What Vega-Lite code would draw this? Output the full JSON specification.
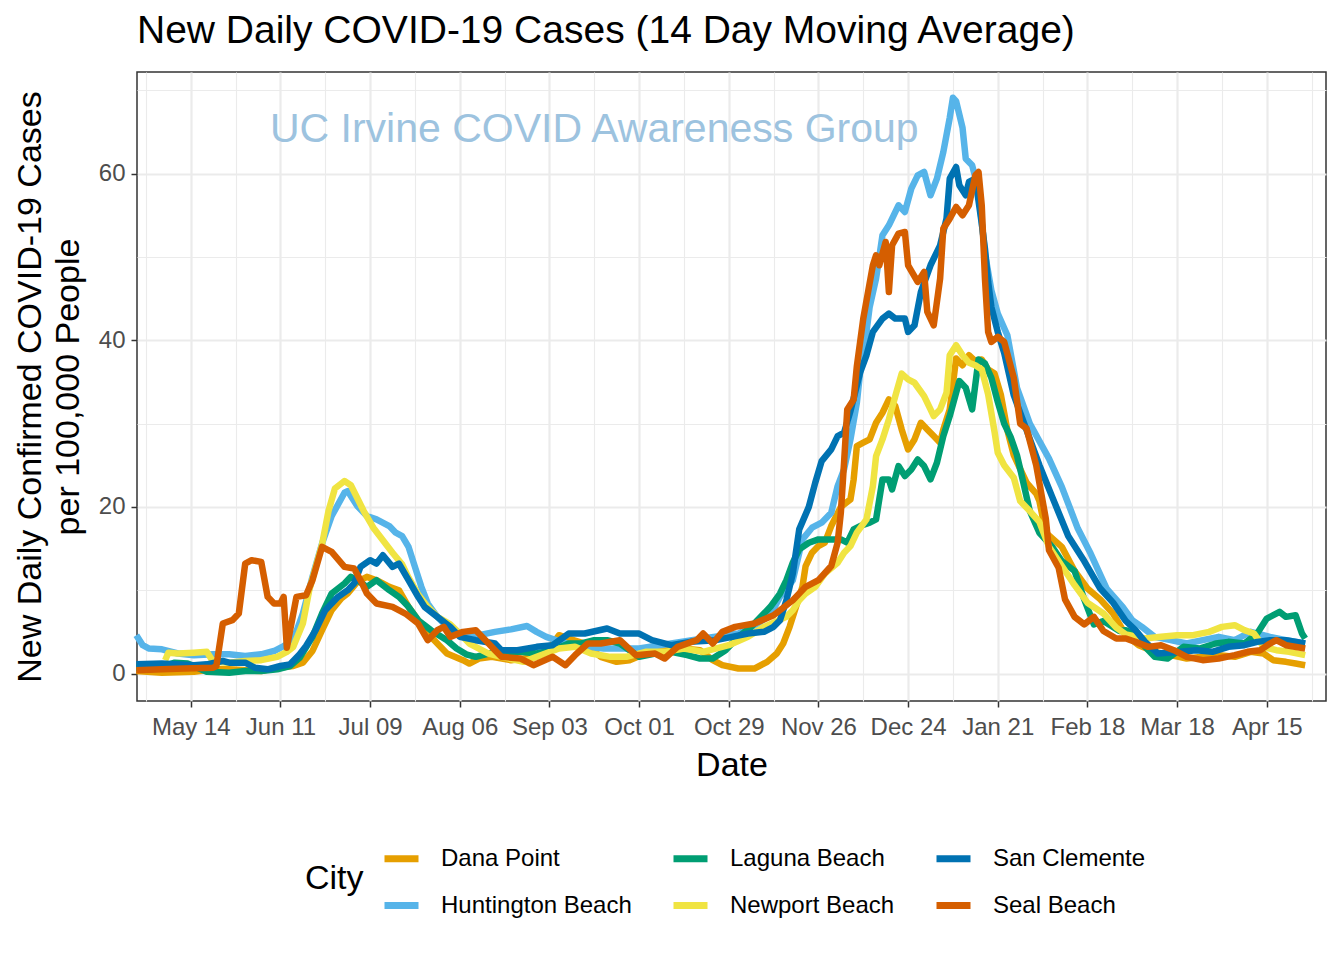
{
"$schema": "https://vega.github.io/schema/vega-lite/v6.json",
"width": 1189, "height": 629,
"autosize": {"type": "none"},
"padding": {"left": 137, "top": 72, "right": 18, "bottom": 259},
"background": "white",
"title": {"text": "New Daily COVID-19 Cases (14 Day Moving Average)", "anchor": "start", "frame": "group", "font": "Liberation Sans", "fontSize": 39, "fontWeight": "normal", "color": "black", "baseline": "alphabetic", "offset": -10},
"config": {"view": {"stroke": "#333333", "strokeWidth": 1.5}, "text": {"font": "Liberation Sans"}},
"data": {"values": [
{"city":"Dana Point","date":"2020-04-27","cases":0.3},{"city":"Dana Point","date":"2020-05-05","cases":0.1},{"city":"Dana Point","date":"2020-05-15","cases":0.2},{"city":"Dana Point","date":"2020-05-21","cases":0.5},{"city":"Dana Point","date":"2020-05-26","cases":0.5},{"city":"Dana Point","date":"2020-06-05","cases":0.3},{"city":"Dana Point","date":"2020-06-10","cases":0.7},{"city":"Dana Point","date":"2020-06-15","cases":0.9},{"city":"Dana Point","date":"2020-06-18","cases":1.3},{"city":"Dana Point","date":"2020-06-21","cases":2.7},{"city":"Dana Point","date":"2020-06-24","cases":5.2},{"city":"Dana Point","date":"2020-06-27","cases":7.6},{"city":"Dana Point","date":"2020-06-30","cases":9.0},{"city":"Dana Point","date":"2020-07-02","cases":9.6},{"city":"Dana Point","date":"2020-07-05","cases":11.0},{"city":"Dana Point","date":"2020-07-08","cases":11.6},{"city":"Dana Point","date":"2020-07-11","cases":11.2},{"city":"Dana Point","date":"2020-07-15","cases":10.4},{"city":"Dana Point","date":"2020-07-18","cases":10.0},{"city":"Dana Point","date":"2020-07-21","cases":8.0},{"city":"Dana Point","date":"2020-07-24","cases":6.4},{"city":"Dana Point","date":"2020-07-27","cases":4.8},{"city":"Dana Point","date":"2020-07-30","cases":3.6},{"city":"Dana Point","date":"2020-08-02","cases":2.4},{"city":"Dana Point","date":"2020-08-07","cases":1.6},{"city":"Dana Point","date":"2020-08-09","cases":1.2},{"city":"Dana Point","date":"2020-08-12","cases":1.8},{"city":"Dana Point","date":"2020-08-16","cases":2.0},{"city":"Dana Point","date":"2020-08-22","cases":1.6},{"city":"Dana Point","date":"2020-08-30","cases":2.0},{"city":"Dana Point","date":"2020-09-03","cases":3.0},{"city":"Dana Point","date":"2020-09-06","cases":4.6},{"city":"Dana Point","date":"2020-09-09","cases":4.2},{"city":"Dana Point","date":"2020-09-14","cases":3.6},{"city":"Dana Point","date":"2020-09-19","cases":2.0},{"city":"Dana Point","date":"2020-09-24","cases":1.4},{"city":"Dana Point","date":"2020-09-28","cases":1.6},{"city":"Dana Point","date":"2020-10-03","cases":2.4},{"city":"Dana Point","date":"2020-10-09","cases":2.8},{"city":"Dana Point","date":"2020-10-15","cases":3.0},{"city":"Dana Point","date":"2020-10-20","cases":2.8},{"city":"Dana Point","date":"2020-10-24","cases":1.6},{"city":"Dana Point","date":"2020-10-27","cases":1.0},{"city":"Dana Point","date":"2020-11-01","cases":0.6},{"city":"Dana Point","date":"2020-11-06","cases":0.6},{"city":"Dana Point","date":"2020-11-10","cases":1.4},{"city":"Dana Point","date":"2020-11-13","cases":2.4},{"city":"Dana Point","date":"2020-11-15","cases":3.6},{"city":"Dana Point","date":"2020-11-17","cases":5.6},{"city":"Dana Point","date":"2020-11-19","cases":8.0},{"city":"Dana Point","date":"2020-11-21","cases":10.4},{"city":"Dana Point","date":"2020-11-22","cases":12.9},{"city":"Dana Point","date":"2020-11-24","cases":14.5},{"city":"Dana Point","date":"2020-11-26","cases":15.3},{"city":"Dana Point","date":"2020-11-28","cases":15.7},{"city":"Dana Point","date":"2020-11-30","cases":17.7},{"city":"Dana Point","date":"2020-12-03","cases":20.0},{"city":"Dana Point","date":"2020-12-06","cases":20.9},{"city":"Dana Point","date":"2020-12-07","cases":23.3},{"city":"Dana Point","date":"2020-12-08","cases":27.3},{"city":"Dana Point","date":"2020-12-10","cases":27.7},{"city":"Dana Point","date":"2020-12-12","cases":28.1},{"city":"Dana Point","date":"2020-12-14","cases":30.1},{"city":"Dana Point","date":"2020-12-16","cases":31.3},{"city":"Dana Point","date":"2020-12-18","cases":32.9},{"city":"Dana Point","date":"2020-12-20","cases":32.1},{"city":"Dana Point","date":"2020-12-22","cases":29.3},{"city":"Dana Point","date":"2020-12-24","cases":26.9},{"city":"Dana Point","date":"2020-12-26","cases":28.1},{"city":"Dana Point","date":"2020-12-28","cases":30.1},{"city":"Dana Point","date":"2020-12-30","cases":29.3},{"city":"Dana Point","date":"2021-01-01","cases":28.5},{"city":"Dana Point","date":"2021-01-03","cases":27.7},{"city":"Dana Point","date":"2021-01-04","cases":29.3},{"city":"Dana Point","date":"2021-01-06","cases":31.7},{"city":"Dana Point","date":"2021-01-08","cases":37.8},{"city":"Dana Point","date":"2021-01-10","cases":37.0},{"city":"Dana Point","date":"2021-01-12","cases":38.2},{"city":"Dana Point","date":"2021-01-14","cases":37.5},{"city":"Dana Point","date":"2021-01-16","cases":37.7},{"city":"Dana Point","date":"2021-01-18","cases":36.5},{"city":"Dana Point","date":"2021-01-20","cases":36.0},{"city":"Dana Point","date":"2021-01-22","cases":33.4},{"city":"Dana Point","date":"2021-01-24","cases":29.2},{"city":"Dana Point","date":"2021-01-26","cases":26.2},{"city":"Dana Point","date":"2021-01-30","cases":22.9},{"city":"Dana Point","date":"2021-02-02","cases":21.6},{"city":"Dana Point","date":"2021-02-03","cases":20.7},{"city":"Dana Point","date":"2021-02-05","cases":16.9},{"city":"Dana Point","date":"2021-02-10","cases":15.2},{"city":"Dana Point","date":"2021-02-14","cases":12.3},{"city":"Dana Point","date":"2021-02-18","cases":10.2},{"city":"Dana Point","date":"2021-02-22","cases":8.9},{"city":"Dana Point","date":"2021-02-26","cases":7.2},{"city":"Dana Point","date":"2021-03-02","cases":4.6},{"city":"Dana Point","date":"2021-03-06","cases":3.4},{"city":"Dana Point","date":"2021-03-11","cases":2.6},{"city":"Dana Point","date":"2021-03-16","cases":2.2},{"city":"Dana Point","date":"2021-03-21","cases":1.8},{"city":"Dana Point","date":"2021-03-26","cases":2.0},{"city":"Dana Point","date":"2021-03-31","cases":2.2},{"city":"Dana Point","date":"2021-04-05","cases":2.0},{"city":"Dana Point","date":"2021-04-10","cases":2.6},{"city":"Dana Point","date":"2021-04-14","cases":2.4},{"city":"Dana Point","date":"2021-04-17","cases":1.6},{"city":"Dana Point","date":"2021-04-21","cases":1.4},{"city":"Dana Point","date":"2021-04-24","cases":1.2},{"city":"Dana Point","date":"2021-04-27","cases":1.0},
{"city":"Huntington Beach","date":"2020-04-27","cases":4.6},{"city":"Huntington Beach","date":"2020-04-29","cases":3.4},{"city":"Huntington Beach","date":"2020-05-01","cases":3.0},{"city":"Huntington Beach","date":"2020-05-05","cases":2.9},{"city":"Huntington Beach","date":"2020-05-10","cases":2.4},{"city":"Huntington Beach","date":"2020-05-15","cases":2.2},{"city":"Huntington Beach","date":"2020-05-21","cases":2.3},{"city":"Huntington Beach","date":"2020-05-26","cases":2.3},{"city":"Huntington Beach","date":"2020-05-31","cases":2.1},{"city":"Huntington Beach","date":"2020-06-05","cases":2.3},{"city":"Huntington Beach","date":"2020-06-09","cases":2.7},{"city":"Huntington Beach","date":"2020-06-12","cases":3.3},{"city":"Huntington Beach","date":"2020-06-15","cases":4.0},{"city":"Huntington Beach","date":"2020-06-18","cases":7.2},{"city":"Huntington Beach","date":"2020-06-21","cases":11.6},{"city":"Huntington Beach","date":"2020-06-24","cases":15.6},{"city":"Huntington Beach","date":"2020-06-27","cases":18.9},{"city":"Huntington Beach","date":"2020-07-01","cases":21.7},{"city":"Huntington Beach","date":"2020-07-02","cases":21.9},{"city":"Huntington Beach","date":"2020-07-05","cases":20.1},{"city":"Huntington Beach","date":"2020-07-08","cases":18.9},{"city":"Huntington Beach","date":"2020-07-11","cases":18.5},{"city":"Huntington Beach","date":"2020-07-15","cases":17.7},{"city":"Huntington Beach","date":"2020-07-17","cases":16.9},{"city":"Huntington Beach","date":"2020-07-19","cases":16.5},{"city":"Huntington Beach","date":"2020-07-21","cases":15.2},{"city":"Huntington Beach","date":"2020-07-23","cases":12.8},{"city":"Huntington Beach","date":"2020-07-25","cases":10.4},{"city":"Huntington Beach","date":"2020-07-27","cases":8.4},{"city":"Huntington Beach","date":"2020-07-30","cases":6.8},{"city":"Huntington Beach","date":"2020-08-02","cases":5.6},{"city":"Huntington Beach","date":"2020-08-07","cases":4.4},{"city":"Huntington Beach","date":"2020-08-12","cases":4.6},{"city":"Huntington Beach","date":"2020-08-17","cases":5.0},{"city":"Huntington Beach","date":"2020-08-22","cases":5.3},{"city":"Huntington Beach","date":"2020-08-27","cases":5.7},{"city":"Huntington Beach","date":"2020-08-30","cases":5.0},{"city":"Huntington Beach","date":"2020-09-02","cases":4.4},{"city":"Huntington Beach","date":"2020-09-05","cases":4.0},{"city":"Huntington Beach","date":"2020-09-10","cases":3.4},{"city":"Huntington Beach","date":"2020-09-20","cases":3.0},{"city":"Huntington Beach","date":"2020-10-01","cases":3.0},{"city":"Huntington Beach","date":"2020-10-11","cases":3.6},{"city":"Huntington Beach","date":"2020-10-21","cases":4.2},{"city":"Huntington Beach","date":"2020-11-01","cases":4.8},{"city":"Huntington Beach","date":"2020-11-07","cases":6.0},{"city":"Huntington Beach","date":"2020-11-11","cases":7.0},{"city":"Huntington Beach","date":"2020-11-14","cases":9.2},{"city":"Huntington Beach","date":"2020-11-18","cases":11.2},{"city":"Huntington Beach","date":"2020-11-21","cases":16.1},{"city":"Huntington Beach","date":"2020-11-24","cases":17.5},{"city":"Huntington Beach","date":"2020-11-27","cases":18.1},{"city":"Huntington Beach","date":"2020-11-30","cases":19.3},{"city":"Huntington Beach","date":"2020-12-02","cases":22.5},{"city":"Huntington Beach","date":"2020-12-04","cases":24.5},{"city":"Huntington Beach","date":"2020-12-06","cases":28.1},{"city":"Huntington Beach","date":"2020-12-08","cases":32.5},{"city":"Huntington Beach","date":"2020-12-09","cases":36.1},{"city":"Huntington Beach","date":"2020-12-11","cases":41.0},{"city":"Huntington Beach","date":"2020-12-12","cases":44.0},{"city":"Huntington Beach","date":"2020-12-14","cases":47.4},{"city":"Huntington Beach","date":"2020-12-16","cases":52.6},{"city":"Huntington Beach","date":"2020-12-18","cases":53.8},{"city":"Huntington Beach","date":"2020-12-21","cases":56.2},{"city":"Huntington Beach","date":"2020-12-23","cases":55.4},{"city":"Huntington Beach","date":"2020-12-25","cases":58.2},{"city":"Huntington Beach","date":"2020-12-27","cases":59.8},{"city":"Huntington Beach","date":"2020-12-29","cases":60.2},{"city":"Huntington Beach","date":"2020-12-31","cases":57.4},{"city":"Huntington Beach","date":"2021-01-02","cases":59.4},{"city":"Huntington Beach","date":"2021-01-04","cases":62.6},{"city":"Huntington Beach","date":"2021-01-06","cases":66.7},{"city":"Huntington Beach","date":"2021-01-07","cases":69.1},{"city":"Huntington Beach","date":"2021-01-08","cases":68.7},{"city":"Huntington Beach","date":"2021-01-10","cases":65.5},{"city":"Huntington Beach","date":"2021-01-11","cases":61.8},{"city":"Huntington Beach","date":"2021-01-13","cases":61.0},{"city":"Huntington Beach","date":"2021-01-15","cases":58.0},{"city":"Huntington Beach","date":"2021-01-17","cases":50.4},{"city":"Huntington Beach","date":"2021-01-19","cases":46.0},{"city":"Huntington Beach","date":"2021-01-21","cases":43.2},{"city":"Huntington Beach","date":"2021-01-24","cases":40.6},{"city":"Huntington Beach","date":"2021-01-27","cases":34.3},{"city":"Huntington Beach","date":"2021-01-31","cases":30.0},{"city":"Huntington Beach","date":"2021-02-06","cases":25.8},{"city":"Huntington Beach","date":"2021-02-10","cases":22.4},{"city":"Huntington Beach","date":"2021-02-15","cases":17.4},{"city":"Huntington Beach","date":"2021-02-19","cases":14.4},{"city":"Huntington Beach","date":"2021-02-24","cases":10.2},{"city":"Huntington Beach","date":"2021-03-01","cases":8.0},{"city":"Huntington Beach","date":"2021-03-04","cases":6.4},{"city":"Huntington Beach","date":"2021-03-07","cases":5.6},{"city":"Huntington Beach","date":"2021-03-11","cases":4.4},{"city":"Huntington Beach","date":"2021-03-16","cases":4.0},{"city":"Huntington Beach","date":"2021-03-21","cases":3.6},{"city":"Huntington Beach","date":"2021-03-26","cases":4.0},{"city":"Huntington Beach","date":"2021-03-31","cases":4.4},{"city":"Huntington Beach","date":"2021-04-05","cases":4.0},{"city":"Huntington Beach","date":"2021-04-10","cases":5.0},{"city":"Huntington Beach","date":"2021-04-16","cases":4.4},{"city":"Huntington Beach","date":"2021-04-21","cases":4.0},{"city":"Huntington Beach","date":"2021-04-27","cases":3.6},
{"city":"Laguna Beach","date":"2020-04-27","cases":0.7},{"city":"Laguna Beach","date":"2020-05-05","cases":0.8},{"city":"Laguna Beach","date":"2020-05-09","cases":1.3},{"city":"Laguna Beach","date":"2020-05-13","cases":1.2},{"city":"Laguna Beach","date":"2020-05-19","cases":0.2},{"city":"Laguna Beach","date":"2020-05-26","cases":0.1},{"city":"Laguna Beach","date":"2020-05-31","cases":0.3},{"city":"Laguna Beach","date":"2020-06-05","cases":0.3},{"city":"Laguna Beach","date":"2020-06-10","cases":0.5},{"city":"Laguna Beach","date":"2020-06-14","cases":0.9},{"city":"Laguna Beach","date":"2020-06-17","cases":1.9},{"city":"Laguna Beach","date":"2020-06-21","cases":4.4},{"city":"Laguna Beach","date":"2020-06-24","cases":7.2},{"city":"Laguna Beach","date":"2020-06-27","cases":9.6},{"city":"Laguna Beach","date":"2020-07-01","cases":10.8},{"city":"Laguna Beach","date":"2020-07-03","cases":11.6},{"city":"Laguna Beach","date":"2020-07-05","cases":11.2},{"city":"Laguna Beach","date":"2020-07-08","cases":10.4},{"city":"Laguna Beach","date":"2020-07-11","cases":11.2},{"city":"Laguna Beach","date":"2020-07-15","cases":10.0},{"city":"Laguna Beach","date":"2020-07-18","cases":9.2},{"city":"Laguna Beach","date":"2020-07-21","cases":8.0},{"city":"Laguna Beach","date":"2020-07-24","cases":6.4},{"city":"Laguna Beach","date":"2020-07-28","cases":5.2},{"city":"Laguna Beach","date":"2020-08-02","cases":4.0},{"city":"Laguna Beach","date":"2020-08-05","cases":3.0},{"city":"Laguna Beach","date":"2020-08-08","cases":2.3},{"city":"Laguna Beach","date":"2020-08-11","cases":2.0},{"city":"Laguna Beach","date":"2020-08-15","cases":2.4},{"city":"Laguna Beach","date":"2020-08-19","cases":2.6},{"city":"Laguna Beach","date":"2020-08-25","cases":2.6},{"city":"Laguna Beach","date":"2020-08-30","cases":2.4},{"city":"Laguna Beach","date":"2020-09-04","cases":2.8},{"city":"Laguna Beach","date":"2020-09-09","cases":3.6},{"city":"Laguna Beach","date":"2020-09-13","cases":3.6},{"city":"Laguna Beach","date":"2020-09-17","cases":4.0},{"city":"Laguna Beach","date":"2020-09-21","cases":4.0},{"city":"Laguna Beach","date":"2020-09-25","cases":3.6},{"city":"Laguna Beach","date":"2020-10-01","cases":2.0},{"city":"Laguna Beach","date":"2020-10-06","cases":2.4},{"city":"Laguna Beach","date":"2020-10-11","cases":2.6},{"city":"Laguna Beach","date":"2020-10-16","cases":2.2},{"city":"Laguna Beach","date":"2020-10-20","cases":1.8},{"city":"Laguna Beach","date":"2020-10-24","cases":1.8},{"city":"Laguna Beach","date":"2020-10-28","cases":2.8},{"city":"Laguna Beach","date":"2020-11-01","cases":4.4},{"city":"Laguna Beach","date":"2020-11-05","cases":5.6},{"city":"Laguna Beach","date":"2020-11-08","cases":6.8},{"city":"Laguna Beach","date":"2020-11-11","cases":8.0},{"city":"Laguna Beach","date":"2020-11-14","cases":9.6},{"city":"Laguna Beach","date":"2020-11-16","cases":11.2},{"city":"Laguna Beach","date":"2020-11-18","cases":13.3},{"city":"Laguna Beach","date":"2020-11-20","cases":14.9},{"city":"Laguna Beach","date":"2020-11-23","cases":15.7},{"city":"Laguna Beach","date":"2020-11-26","cases":16.1},{"city":"Laguna Beach","date":"2020-11-30","cases":16.1},{"city":"Laguna Beach","date":"2020-12-03","cases":16.1},{"city":"Laguna Beach","date":"2020-12-05","cases":15.7},{"city":"Laguna Beach","date":"2020-12-07","cases":17.3},{"city":"Laguna Beach","date":"2020-12-09","cases":17.7},{"city":"Laguna Beach","date":"2020-12-12","cases":18.1},{"city":"Laguna Beach","date":"2020-12-14","cases":18.5},{"city":"Laguna Beach","date":"2020-12-16","cases":23.3},{"city":"Laguna Beach","date":"2020-12-18","cases":23.3},{"city":"Laguna Beach","date":"2020-12-19","cases":22.1},{"city":"Laguna Beach","date":"2020-12-21","cases":24.9},{"city":"Laguna Beach","date":"2020-12-23","cases":23.7},{"city":"Laguna Beach","date":"2020-12-25","cases":24.5},{"city":"Laguna Beach","date":"2020-12-27","cases":25.7},{"city":"Laguna Beach","date":"2020-12-29","cases":24.9},{"city":"Laguna Beach","date":"2020-12-31","cases":23.3},{"city":"Laguna Beach","date":"2021-01-02","cases":25.3},{"city":"Laguna Beach","date":"2021-01-04","cases":28.5},{"city":"Laguna Beach","date":"2021-01-06","cases":30.9},{"city":"Laguna Beach","date":"2021-01-08","cases":33.7},{"city":"Laguna Beach","date":"2021-01-09","cases":35.1},{"city":"Laguna Beach","date":"2021-01-11","cases":34.3},{"city":"Laguna Beach","date":"2021-01-13","cases":31.7},{"city":"Laguna Beach","date":"2021-01-15","cases":37.7},{"city":"Laguna Beach","date":"2021-01-17","cases":37.2},{"city":"Laguna Beach","date":"2021-01-19","cases":35.5},{"city":"Laguna Beach","date":"2021-01-21","cases":32.6},{"city":"Laguna Beach","date":"2021-01-23","cases":30.0},{"city":"Laguna Beach","date":"2021-01-25","cases":28.4},{"city":"Laguna Beach","date":"2021-01-27","cases":26.2},{"city":"Laguna Beach","date":"2021-01-29","cases":22.9},{"city":"Laguna Beach","date":"2021-01-31","cases":19.5},{"city":"Laguna Beach","date":"2021-02-03","cases":16.9},{"city":"Laguna Beach","date":"2021-02-07","cases":15.2},{"city":"Laguna Beach","date":"2021-02-10","cases":13.5},{"city":"Laguna Beach","date":"2021-02-14","cases":12.3},{"city":"Laguna Beach","date":"2021-02-17","cases":8.9},{"city":"Laguna Beach","date":"2021-02-20","cases":5.9},{"city":"Laguna Beach","date":"2021-02-23","cases":6.3},{"city":"Laguna Beach","date":"2021-02-28","cases":5.1},{"city":"Laguna Beach","date":"2021-03-02","cases":5.2},{"city":"Laguna Beach","date":"2021-03-06","cases":4.4},{"city":"Laguna Beach","date":"2021-03-08","cases":3.2},{"city":"Laguna Beach","date":"2021-03-11","cases":2.0},{"city":"Laguna Beach","date":"2021-03-15","cases":1.8},{"city":"Laguna Beach","date":"2021-03-20","cases":3.2},{"city":"Laguna Beach","date":"2021-03-25","cases":3.0},{"city":"Laguna Beach","date":"2021-03-30","cases":3.6},{"city":"Laguna Beach","date":"2021-04-03","cases":3.8},{"city":"Laguna Beach","date":"2021-04-08","cases":3.6},{"city":"Laguna Beach","date":"2021-04-12","cases":4.8},{"city":"Laguna Beach","date":"2021-04-15","cases":6.6},{"city":"Laguna Beach","date":"2021-04-19","cases":7.4},{"city":"Laguna Beach","date":"2021-04-21","cases":6.8},{"city":"Laguna Beach","date":"2021-04-24","cases":7.0},{"city":"Laguna Beach","date":"2021-04-26","cases":4.8},{"city":"Laguna Beach","date":"2021-04-27","cases":4.2},
{"city":"Newport Beach","date":"2020-05-06","cases":1.6},{"city":"Newport Beach","date":"2020-05-07","cases":2.5},{"city":"Newport Beach","date":"2020-05-10","cases":2.4},{"city":"Newport Beach","date":"2020-05-15","cases":2.5},{"city":"Newport Beach","date":"2020-05-19","cases":2.6},{"city":"Newport Beach","date":"2020-05-21","cases":1.4},{"city":"Newport Beach","date":"2020-05-26","cases":1.3},{"city":"Newport Beach","date":"2020-05-31","cases":1.5},{"city":"Newport Beach","date":"2020-06-05","cases":1.6},{"city":"Newport Beach","date":"2020-06-10","cases":2.0},{"city":"Newport Beach","date":"2020-06-13","cases":2.6},{"city":"Newport Beach","date":"2020-06-15","cases":3.2},{"city":"Newport Beach","date":"2020-06-18","cases":6.0},{"city":"Newport Beach","date":"2020-06-20","cases":10.0},{"city":"Newport Beach","date":"2020-06-24","cases":15.5},{"city":"Newport Beach","date":"2020-06-26","cases":19.5},{"city":"Newport Beach","date":"2020-06-28","cases":22.2},{"city":"Newport Beach","date":"2020-07-01","cases":23.1},{"city":"Newport Beach","date":"2020-07-03","cases":22.6},{"city":"Newport Beach","date":"2020-07-07","cases":19.5},{"city":"Newport Beach","date":"2020-07-10","cases":17.5},{"city":"Newport Beach","date":"2020-07-13","cases":16.0},{"city":"Newport Beach","date":"2020-07-16","cases":14.5},{"city":"Newport Beach","date":"2020-07-19","cases":13.1},{"city":"Newport Beach","date":"2020-07-21","cases":11.5},{"city":"Newport Beach","date":"2020-07-24","cases":9.5},{"city":"Newport Beach","date":"2020-07-27","cases":8.0},{"city":"Newport Beach","date":"2020-07-30","cases":6.8},{"city":"Newport Beach","date":"2020-08-03","cases":5.9},{"city":"Newport Beach","date":"2020-08-06","cases":4.8},{"city":"Newport Beach","date":"2020-08-09","cases":3.6},{"city":"Newport Beach","date":"2020-08-15","cases":2.4},{"city":"Newport Beach","date":"2020-08-19","cases":2.0},{"city":"Newport Beach","date":"2020-08-26","cases":1.4},{"city":"Newport Beach","date":"2020-08-30","cases":2.0},{"city":"Newport Beach","date":"2020-09-06","cases":3.0},{"city":"Newport Beach","date":"2020-09-11","cases":3.2},{"city":"Newport Beach","date":"2020-09-16","cases":2.4},{"city":"Newport Beach","date":"2020-09-22","cases":2.0},{"city":"Newport Beach","date":"2020-09-27","cases":2.0},{"city":"Newport Beach","date":"2020-10-03","cases":2.6},{"city":"Newport Beach","date":"2020-10-09","cases":2.6},{"city":"Newport Beach","date":"2020-10-15","cases":3.0},{"city":"Newport Beach","date":"2020-10-21","cases":2.6},{"city":"Newport Beach","date":"2020-10-29","cases":3.4},{"city":"Newport Beach","date":"2020-11-04","cases":4.4},{"city":"Newport Beach","date":"2020-11-09","cases":5.6},{"city":"Newport Beach","date":"2020-11-16","cases":6.8},{"city":"Newport Beach","date":"2020-11-18","cases":7.6},{"city":"Newport Beach","date":"2020-11-20","cases":8.8},{"city":"Newport Beach","date":"2020-11-22","cases":9.6},{"city":"Newport Beach","date":"2020-11-25","cases":10.4},{"city":"Newport Beach","date":"2020-11-28","cases":12.0},{"city":"Newport Beach","date":"2020-12-02","cases":13.3},{"city":"Newport Beach","date":"2020-12-04","cases":14.5},{"city":"Newport Beach","date":"2020-12-06","cases":15.3},{"city":"Newport Beach","date":"2020-12-08","cases":16.9},{"city":"Newport Beach","date":"2020-12-11","cases":18.5},{"city":"Newport Beach","date":"2020-12-13","cases":22.5},{"city":"Newport Beach","date":"2020-12-14","cases":26.1},{"city":"Newport Beach","date":"2020-12-16","cases":28.1},{"city":"Newport Beach","date":"2020-12-18","cases":30.5},{"city":"Newport Beach","date":"2020-12-20","cases":33.3},{"city":"Newport Beach","date":"2020-12-22","cases":36.0},{"city":"Newport Beach","date":"2020-12-24","cases":35.3},{"city":"Newport Beach","date":"2020-12-26","cases":34.9},{"city":"Newport Beach","date":"2020-12-29","cases":33.3},{"city":"Newport Beach","date":"2020-12-31","cases":31.7},{"city":"Newport Beach","date":"2021-01-01","cases":30.9},{"city":"Newport Beach","date":"2021-01-03","cases":31.7},{"city":"Newport Beach","date":"2021-01-05","cases":33.7},{"city":"Newport Beach","date":"2021-01-06","cases":38.2},{"city":"Newport Beach","date":"2021-01-08","cases":39.4},{"city":"Newport Beach","date":"2021-01-10","cases":38.2},{"city":"Newport Beach","date":"2021-01-12","cases":37.3},{"city":"Newport Beach","date":"2021-01-14","cases":37.0},{"city":"Newport Beach","date":"2021-01-16","cases":36.5},{"city":"Newport Beach","date":"2021-01-18","cases":33.5},{"city":"Newport Beach","date":"2021-01-20","cases":29.0},{"city":"Newport Beach","date":"2021-01-21","cases":26.5},{"city":"Newport Beach","date":"2021-01-23","cases":25.0},{"city":"Newport Beach","date":"2021-01-26","cases":23.5},{"city":"Newport Beach","date":"2021-01-28","cases":20.7},{"city":"Newport Beach","date":"2021-01-31","cases":19.5},{"city":"Newport Beach","date":"2021-02-03","cases":18.2},{"city":"Newport Beach","date":"2021-02-06","cases":15.2},{"city":"Newport Beach","date":"2021-02-09","cases":13.5},{"city":"Newport Beach","date":"2021-02-14","cases":10.6},{"city":"Newport Beach","date":"2021-02-18","cases":8.5},{"city":"Newport Beach","date":"2021-02-23","cases":7.2},{"city":"Newport Beach","date":"2021-02-27","cases":5.5},{"city":"Newport Beach","date":"2021-03-02","cases":4.7},{"city":"Newport Beach","date":"2021-03-08","cases":4.2},{"city":"Newport Beach","date":"2021-03-13","cases":4.4},{"city":"Newport Beach","date":"2021-03-18","cases":4.6},{"city":"Newport Beach","date":"2021-03-23","cases":4.6},{"city":"Newport Beach","date":"2021-03-28","cases":5.0},{"city":"Newport Beach","date":"2021-04-01","cases":5.6},{"city":"Newport Beach","date":"2021-04-05","cases":5.8},{"city":"Newport Beach","date":"2021-04-08","cases":5.2},{"city":"Newport Beach","date":"2021-04-11","cases":4.8},{"city":"Newport Beach","date":"2021-04-14","cases":3.2},{"city":"Newport Beach","date":"2021-04-18","cases":2.8},{"city":"Newport Beach","date":"2021-04-22","cases":2.6},{"city":"Newport Beach","date":"2021-04-27","cases":2.2},
{"city":"San Clemente","date":"2020-04-27","cases":1.1},{"city":"San Clemente","date":"2020-05-05","cases":1.2},{"city":"San Clemente","date":"2020-05-15","cases":1.0},{"city":"San Clemente","date":"2020-05-19","cases":1.1},{"city":"San Clemente","date":"2020-05-24","cases":1.5},{"city":"San Clemente","date":"2020-05-26","cases":1.3},{"city":"San Clemente","date":"2020-05-31","cases":1.3},{"city":"San Clemente","date":"2020-06-03","cases":0.7},{"city":"San Clemente","date":"2020-06-07","cases":0.5},{"city":"San Clemente","date":"2020-06-11","cases":0.9},{"city":"San Clemente","date":"2020-06-14","cases":1.1},{"city":"San Clemente","date":"2020-06-17","cases":2.3},{"city":"San Clemente","date":"2020-06-19","cases":3.3},{"city":"San Clemente","date":"2020-06-22","cases":5.2},{"city":"San Clemente","date":"2020-06-25","cases":7.6},{"city":"San Clemente","date":"2020-06-29","cases":9.2},{"city":"San Clemente","date":"2020-07-02","cases":10.0},{"city":"San Clemente","date":"2020-07-04","cases":10.8},{"city":"San Clemente","date":"2020-07-06","cases":12.8},{"city":"San Clemente","date":"2020-07-09","cases":13.6},{"city":"San Clemente","date":"2020-07-11","cases":13.2},{"city":"San Clemente","date":"2020-07-13","cases":14.2},{"city":"San Clemente","date":"2020-07-16","cases":12.8},{"city":"San Clemente","date":"2020-07-18","cases":13.2},{"city":"San Clemente","date":"2020-07-21","cases":11.2},{"city":"San Clemente","date":"2020-07-24","cases":9.2},{"city":"San Clemente","date":"2020-07-26","cases":8.0},{"city":"San Clemente","date":"2020-07-30","cases":6.8},{"city":"San Clemente","date":"2020-08-03","cases":5.6},{"city":"San Clemente","date":"2020-08-06","cases":4.4},{"city":"San Clemente","date":"2020-08-11","cases":4.0},{"city":"San Clemente","date":"2020-08-17","cases":3.6},{"city":"San Clemente","date":"2020-08-19","cases":2.8},{"city":"San Clemente","date":"2020-08-24","cases":2.8},{"city":"San Clemente","date":"2020-08-30","cases":3.2},{"city":"San Clemente","date":"2020-09-04","cases":3.4},{"city":"San Clemente","date":"2020-09-09","cases":4.8},{"city":"San Clemente","date":"2020-09-14","cases":4.8},{"city":"San Clemente","date":"2020-09-21","cases":5.4},{"city":"San Clemente","date":"2020-09-25","cases":4.8},{"city":"San Clemente","date":"2020-10-01","cases":4.8},{"city":"San Clemente","date":"2020-10-05","cases":4.0},{"city":"San Clemente","date":"2020-10-11","cases":3.4},{"city":"San Clemente","date":"2020-10-17","cases":3.8},{"city":"San Clemente","date":"2020-10-25","cases":4.0},{"city":"San Clemente","date":"2020-10-30","cases":4.4},{"city":"San Clemente","date":"2020-11-04","cases":4.8},{"city":"San Clemente","date":"2020-11-09","cases":5.0},{"city":"San Clemente","date":"2020-11-12","cases":5.6},{"city":"San Clemente","date":"2020-11-14","cases":6.4},{"city":"San Clemente","date":"2020-11-16","cases":8.8},{"city":"San Clemente","date":"2020-11-18","cases":12.0},{"city":"San Clemente","date":"2020-11-20","cases":17.3},{"city":"San Clemente","date":"2020-11-23","cases":20.0},{"city":"San Clemente","date":"2020-11-25","cases":22.9},{"city":"San Clemente","date":"2020-11-27","cases":25.5},{"city":"San Clemente","date":"2020-11-30","cases":26.9},{"city":"San Clemente","date":"2020-12-02","cases":28.5},{"city":"San Clemente","date":"2020-12-04","cases":28.9},{"city":"San Clemente","date":"2020-12-06","cases":31.5},{"city":"San Clemente","date":"2020-12-09","cases":36.1},{"city":"San Clemente","date":"2020-12-11","cases":38.2},{"city":"San Clemente","date":"2020-12-13","cases":41.0},{"city":"San Clemente","date":"2020-12-16","cases":42.6},{"city":"San Clemente","date":"2020-12-18","cases":43.2},{"city":"San Clemente","date":"2020-12-20","cases":42.6},{"city":"San Clemente","date":"2020-12-23","cases":42.6},{"city":"San Clemente","date":"2020-12-24","cases":41.0},{"city":"San Clemente","date":"2020-12-26","cases":41.8},{"city":"San Clemente","date":"2020-12-28","cases":45.8},{"city":"San Clemente","date":"2020-12-31","cases":49.0},{"city":"San Clemente","date":"2021-01-03","cases":51.4},{"city":"San Clemente","date":"2021-01-05","cases":54.6},{"city":"San Clemente","date":"2021-01-06","cases":59.4},{"city":"San Clemente","date":"2021-01-08","cases":60.8},{"city":"San Clemente","date":"2021-01-09","cases":58.6},{"city":"San Clemente","date":"2021-01-11","cases":57.4},{"city":"San Clemente","date":"2021-01-12","cases":59.0},{"city":"San Clemente","date":"2021-01-14","cases":59.4},{"city":"San Clemente","date":"2021-01-16","cases":54.0},{"city":"San Clemente","date":"2021-01-17","cases":51.0},{"city":"San Clemente","date":"2021-01-18","cases":47.0},{"city":"San Clemente","date":"2021-01-19","cases":44.0},{"city":"San Clemente","date":"2021-01-21","cases":41.0},{"city":"San Clemente","date":"2021-01-23","cases":38.5},{"city":"San Clemente","date":"2021-01-26","cases":33.4},{"city":"San Clemente","date":"2021-01-30","cases":29.2},{"city":"San Clemente","date":"2021-02-03","cases":25.0},{"city":"San Clemente","date":"2021-02-07","cases":21.2},{"city":"San Clemente","date":"2021-02-12","cases":16.5},{"city":"San Clemente","date":"2021-02-17","cases":13.5},{"city":"San Clemente","date":"2021-02-22","cases":10.2},{"city":"San Clemente","date":"2021-02-26","cases":8.5},{"city":"San Clemente","date":"2021-03-02","cases":6.3},{"city":"San Clemente","date":"2021-03-05","cases":5.2},{"city":"San Clemente","date":"2021-03-08","cases":3.8},{"city":"San Clemente","date":"2021-03-12","cases":2.4},{"city":"San Clemente","date":"2021-03-19","cases":2.6},{"city":"San Clemente","date":"2021-03-24","cases":2.8},{"city":"San Clemente","date":"2021-03-29","cases":2.6},{"city":"San Clemente","date":"2021-04-03","cases":3.2},{"city":"San Clemente","date":"2021-04-08","cases":3.4},{"city":"San Clemente","date":"2021-04-12","cases":3.8},{"city":"San Clemente","date":"2021-04-16","cases":4.0},{"city":"San Clemente","date":"2021-04-21","cases":4.0},{"city":"San Clemente","date":"2021-04-27","cases":3.6},
{"city":"Seal Beach","date":"2020-04-27","cases":0.4},{"city":"Seal Beach","date":"2020-05-05","cases":0.5},{"city":"Seal Beach","date":"2020-05-12","cases":0.6},{"city":"Seal Beach","date":"2020-05-21","cases":0.7},{"city":"Seal Beach","date":"2020-05-22","cases":0.9},{"city":"Seal Beach","date":"2020-05-24","cases":6.0},{"city":"Seal Beach","date":"2020-05-27","cases":6.4},{"city":"Seal Beach","date":"2020-05-29","cases":7.2},{"city":"Seal Beach","date":"2020-05-31","cases":13.2},{"city":"Seal Beach","date":"2020-06-02","cases":13.6},{"city":"Seal Beach","date":"2020-06-05","cases":13.4},{"city":"Seal Beach","date":"2020-06-07","cases":9.2},{"city":"Seal Beach","date":"2020-06-09","cases":8.4},{"city":"Seal Beach","date":"2020-06-11","cases":8.4},{"city":"Seal Beach","date":"2020-06-12","cases":9.2},{"city":"Seal Beach","date":"2020-06-13","cases":3.1},{"city":"Seal Beach","date":"2020-06-16","cases":9.2},{"city":"Seal Beach","date":"2020-06-19","cases":9.4},{"city":"Seal Beach","date":"2020-06-21","cases":11.2},{"city":"Seal Beach","date":"2020-06-24","cases":15.2},{"city":"Seal Beach","date":"2020-06-27","cases":14.6},{"city":"Seal Beach","date":"2020-07-01","cases":12.8},{"city":"Seal Beach","date":"2020-07-04","cases":12.6},{"city":"Seal Beach","date":"2020-07-06","cases":11.2},{"city":"Seal Beach","date":"2020-07-08","cases":9.6},{"city":"Seal Beach","date":"2020-07-11","cases":8.4},{"city":"Seal Beach","date":"2020-07-16","cases":8.0},{"city":"Seal Beach","date":"2020-07-20","cases":7.2},{"city":"Seal Beach","date":"2020-07-24","cases":6.0},{"city":"Seal Beach","date":"2020-07-27","cases":4.0},{"city":"Seal Beach","date":"2020-07-30","cases":5.2},{"city":"Seal Beach","date":"2020-08-01","cases":5.6},{"city":"Seal Beach","date":"2020-08-03","cases":4.4},{"city":"Seal Beach","date":"2020-08-07","cases":5.0},{"city":"Seal Beach","date":"2020-08-11","cases":5.2},{"city":"Seal Beach","date":"2020-08-15","cases":3.6},{"city":"Seal Beach","date":"2020-08-17","cases":2.8},{"city":"Seal Beach","date":"2020-08-19","cases":2.0},{"city":"Seal Beach","date":"2020-08-25","cases":1.8},{"city":"Seal Beach","date":"2020-08-29","cases":1.0},{"city":"Seal Beach","date":"2020-09-04","cases":2.0},{"city":"Seal Beach","date":"2020-09-08","cases":1.0},{"city":"Seal Beach","date":"2020-09-11","cases":2.2},{"city":"Seal Beach","date":"2020-09-15","cases":3.6},{"city":"Seal Beach","date":"2020-09-19","cases":3.6},{"city":"Seal Beach","date":"2020-09-25","cases":4.0},{"city":"Seal Beach","date":"2020-09-30","cases":2.2},{"city":"Seal Beach","date":"2020-10-06","cases":2.4},{"city":"Seal Beach","date":"2020-10-09","cases":1.8},{"city":"Seal Beach","date":"2020-10-13","cases":3.2},{"city":"Seal Beach","date":"2020-10-19","cases":4.0},{"city":"Seal Beach","date":"2020-10-21","cases":4.8},{"city":"Seal Beach","date":"2020-10-24","cases":3.6},{"city":"Seal Beach","date":"2020-10-27","cases":5.0},{"city":"Seal Beach","date":"2020-10-31","cases":5.6},{"city":"Seal Beach","date":"2020-11-06","cases":6.0},{"city":"Seal Beach","date":"2020-11-12","cases":7.0},{"city":"Seal Beach","date":"2020-11-18","cases":8.8},{"city":"Seal Beach","date":"2020-11-22","cases":10.4},{"city":"Seal Beach","date":"2020-11-26","cases":11.2},{"city":"Seal Beach","date":"2020-11-30","cases":12.9},{"city":"Seal Beach","date":"2020-12-02","cases":15.7},{"city":"Seal Beach","date":"2020-12-03","cases":19.3},{"city":"Seal Beach","date":"2020-12-04","cases":25.3},{"city":"Seal Beach","date":"2020-12-05","cases":31.7},{"city":"Seal Beach","date":"2020-12-07","cases":32.9},{"city":"Seal Beach","date":"2020-12-08","cases":36.9},{"city":"Seal Beach","date":"2020-12-10","cases":42.6},{"city":"Seal Beach","date":"2020-12-13","cases":49.0},{"city":"Seal Beach","date":"2020-12-14","cases":50.2},{"city":"Seal Beach","date":"2020-12-15","cases":49.0},{"city":"Seal Beach","date":"2020-12-17","cases":51.8},{"city":"Seal Beach","date":"2020-12-18","cases":45.8},{"city":"Seal Beach","date":"2020-12-19","cases":51.4},{"city":"Seal Beach","date":"2020-12-21","cases":52.8},{"city":"Seal Beach","date":"2020-12-23","cases":53.0},{"city":"Seal Beach","date":"2020-12-24","cases":49.0},{"city":"Seal Beach","date":"2020-12-27","cases":47.0},{"city":"Seal Beach","date":"2020-12-29","cases":48.2},{"city":"Seal Beach","date":"2020-12-30","cases":43.4},{"city":"Seal Beach","date":"2021-01-01","cases":41.8},{"city":"Seal Beach","date":"2021-01-03","cases":47.4},{"city":"Seal Beach","date":"2021-01-04","cases":53.4},{"city":"Seal Beach","date":"2021-01-06","cases":54.6},{"city":"Seal Beach","date":"2021-01-08","cases":56.0},{"city":"Seal Beach","date":"2021-01-10","cases":55.0},{"city":"Seal Beach","date":"2021-01-12","cases":56.2},{"city":"Seal Beach","date":"2021-01-14","cases":59.8},{"city":"Seal Beach","date":"2021-01-15","cases":60.2},{"city":"Seal Beach","date":"2021-01-16","cases":56.2},{"city":"Seal Beach","date":"2021-01-17","cases":47.4},{"city":"Seal Beach","date":"2021-01-18","cases":41.0},{"city":"Seal Beach","date":"2021-01-19","cases":39.8},{"city":"Seal Beach","date":"2021-01-21","cases":40.4},{"city":"Seal Beach","date":"2021-01-23","cases":39.8},{"city":"Seal Beach","date":"2021-01-26","cases":35.5},{"city":"Seal Beach","date":"2021-01-28","cases":30.0},{"city":"Seal Beach","date":"2021-01-30","cases":29.4},{"city":"Seal Beach","date":"2021-02-02","cases":25.0},{"city":"Seal Beach","date":"2021-02-05","cases":18.6},{"city":"Seal Beach","date":"2021-02-06","cases":14.8},{"city":"Seal Beach","date":"2021-02-09","cases":12.7},{"city":"Seal Beach","date":"2021-02-11","cases":8.9},{"city":"Seal Beach","date":"2021-02-14","cases":6.8},{"city":"Seal Beach","date":"2021-02-17","cases":5.9},{"city":"Seal Beach","date":"2021-02-20","cases":6.8},{"city":"Seal Beach","date":"2021-02-23","cases":5.1},{"city":"Seal Beach","date":"2021-02-27","cases":4.2},{"city":"Seal Beach","date":"2021-03-02","cases":4.2},{"city":"Seal Beach","date":"2021-03-05","cases":3.8},{"city":"Seal Beach","date":"2021-03-09","cases":3.2},{"city":"Seal Beach","date":"2021-03-13","cases":3.4},{"city":"Seal Beach","date":"2021-03-17","cases":2.8},{"city":"Seal Beach","date":"2021-03-21","cases":2.0},{"city":"Seal Beach","date":"2021-03-26","cases":1.6},{"city":"Seal Beach","date":"2021-03-31","cases":1.8},{"city":"Seal Beach","date":"2021-04-05","cases":2.2},{"city":"Seal Beach","date":"2021-04-09","cases":2.6},{"city":"Seal Beach","date":"2021-04-13","cases":2.8},{"city":"Seal Beach","date":"2021-04-16","cases":3.6},{"city":"Seal Beach","date":"2021-04-18","cases":4.0},{"city":"Seal Beach","date":"2021-04-21","cases":3.4},{"city":"Seal Beach","date":"2021-04-27","cases":3.0}
]},
"encoding": {
  "x": {"field": "date", "type": "temporal",
    "scale": {"type": "utc", "domain": [{"year": 2020, "month": 4, "date": 27, "hours": 5, "utc": true}, {"year": 2021, "month": 5, "date": 3, "hours": 12, "utc": true}]},
    "axis": {"title": "Date", "titleFont": "Liberation Sans", "titleFontSize": 34, "titleFontWeight": "normal", "titleColor": "black", "titleBaseline": "alphabetic", "titleY": 74,
      "values": [1588204800000,1589414400000,1590624000000,1591833600000,1593043200000,1594252800000,1595462400000,1596672000000,1597881600000,1599091200000,1600300800000,1601510400000,1602720000000,1603929600000,1605139200000,1606348800000,1607558400000,1608768000000,1609977600000,1611187200000,1612396800000,1613606400000,1614816000000,1616025600000,1617235200000,1618444800000,1619654400000],
      "labelExpr": "round((datum.value - 1589414400000) / 1209600000) % 2 == 0 ? utcFormat(datum.value, '%b %d') : ''",
      "labelFont": "Liberation Sans", "labelFontSize": 24, "labelColor": "#4D4D4D", "labelPadding": 8, "labelOverlap": false, "labelFlush": false, "labelBound": false,
      "domain": false, "tickColor": "#333333", "tickWidth": 1.5, "tickSize": 6,
      "tickOpacity": {"condition": {"test": "round((datum.value - 1589414400000) / 1209600000) % 2 == 0", "value": 1}, "value": 0},
      "gridColor": "#EBEBEB",
      "gridWidth": {"condition": {"test": "round((datum.value - 1589414400000) / 1209600000) % 2 == 0", "value": 2.2}, "value": 1.1}}},
  "y": {"field": "cases", "type": "quantitative",
    "scale": {"domain": [-3.3, 72.2], "nice": false, "zero": false},
    "axis": {"title": ["New Daily Confirmed COVID-19 Cases", "per 100,000 People"], "titleFont": "Liberation Sans", "titleFontSize": 34, "titleFontWeight": "normal", "titleColor": "black", "titleAngle": -90, "titleAlign": "center", "titleBaseline": "alphabetic", "titleLineHeight": 38, "titleX": -97, "titleY": 314.5,
      "values": [0,10,20,30,40,50,60,70],
      "labelExpr": "datum.value % 20 == 0 ? datum.label : ''",
      "labelFont": "Liberation Sans", "labelFontSize": 24, "labelColor": "#4D4D4D", "labelPadding": 6,
      "domain": false, "tickColor": "#333333", "tickWidth": 1.5, "tickSize": 6,
      "tickOpacity": {"condition": {"test": "datum.value % 20 == 0", "value": 1}, "value": 0},
      "gridColor": "#EBEBEB",
      "gridWidth": {"condition": {"test": "datum.value % 20 == 0", "value": 2.2}, "value": 1.1}}}
},
"layer": [
  {"mark": {"type": "line", "strokeWidth": 6.5, "strokeJoin": "round", "strokeCap": "butt"},
   "encoding": {"color": {"field": "city", "type": "nominal",
     "scale": {"domain": ["Dana Point", "Laguna Beach", "San Clemente", "Huntington Beach", "Newport Beach", "Seal Beach"], "range": ["#E69F00", "#009E73", "#0072B2", "#56B4E9", "#F0E442", "#D55E00"]},
     "legend": {"orient": "none", "legendX": 168, "legendY": 766, "direction": "horizontal", "columns": 3, "gridAlign": "each", "columnPadding": 27, "rowPadding": 12,
       "title": "City", "titleOrient": "left", "titleFont": "Liberation Sans", "titleFontSize": 34, "titleFontWeight": "normal", "titleColor": "black", "titlePadding": 17, "titleAnchor": "middle", "titleBaseline": "middle",
       "labelFont": "Liberation Sans", "labelFontSize": 24, "labelColor": "black", "labelOffset": 19, "labelLimit": 400,
       "symbolType": "stroke", "symbolSize": 1156, "symbolStrokeWidth": 7}}}},
  {"data": {"values": [{"label": "UC Irvine COVID Awareness Group", "date": "2020-09-17", "cases": 65.2}]},
   "mark": {"type": "text", "font": "Liberation Sans", "fontSize": 41, "color": "#9DC3DF", "align": "center", "baseline": "middle"},
   "encoding": {"text": {"field": "label", "type": "nominal"}}}
]
}
